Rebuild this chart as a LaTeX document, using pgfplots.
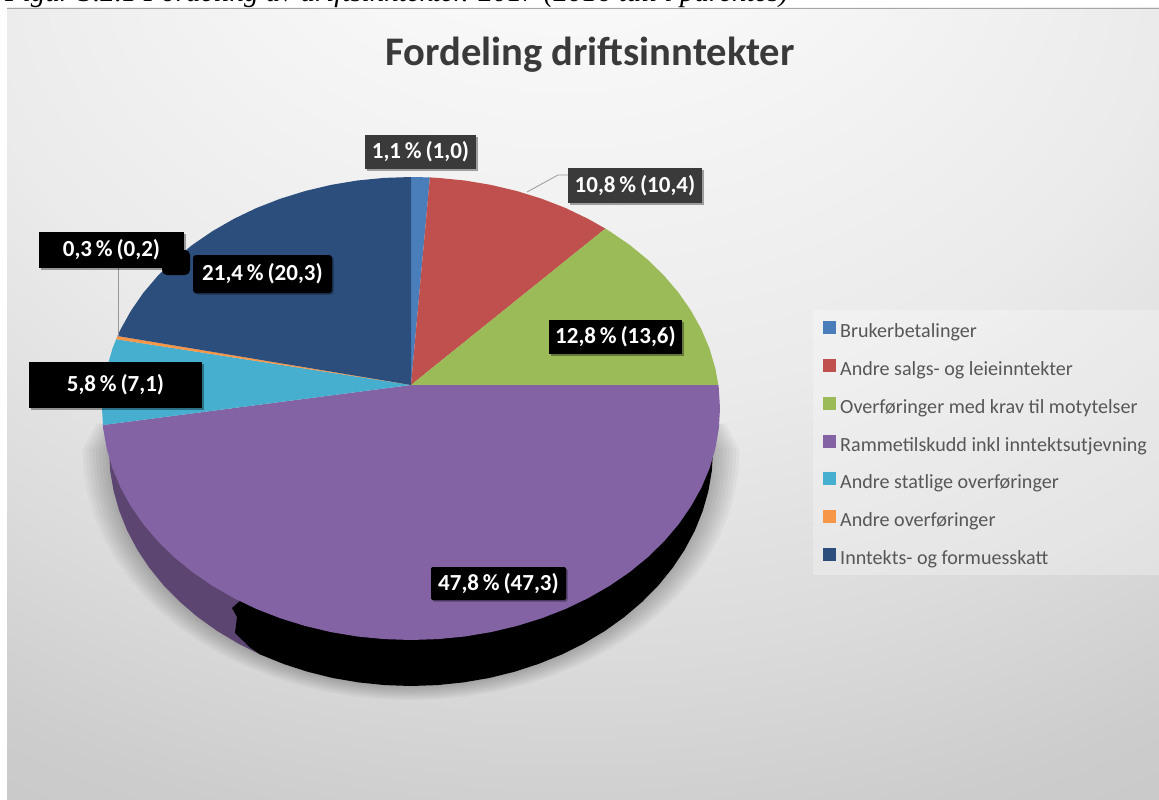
\documentclass[border=0pt]{standalone}
\usepackage{fontspec}
\setmainfont{Carlito}
\newfontfamily\capfont{Liberation Serif}
\usepackage{pgfplots}
\pgfplotsset{compat=1.18}
\usepackage{pgfplotstable}
\usetikzlibrary{shadows}
\definecolor{cBlue}{HTML}{4A7EBB}
\definecolor{cRed}{HTML}{C0504D}
\definecolor{cGreen}{HTML}{9BBB59}
\definecolor{cPurple}{HTML}{8463A5}
\definecolor{cSide}{HTML}{5C4570}
\definecolor{cLight}{HTML}{46AFCF}
\definecolor{cOrange}{HTML}{F79646}
\definecolor{cDark}{HTML}{2B4E7C}
\definecolor{cTxt}{HTML}{3A3A3A}
\pgfdeclareradialshading{bgshade}{\pgfpoint{-1.1bp}{40.9bp}}{%
 color(0bp)=(white); color(8.5bp)=(white!98!black); color(26bp)=(white!92!black);
 color(36bp)=(white!86!black); color(44bp)=(white!80!black); color(56bp)=(white!76!black); color(72bp)=(white!75!black)}
\pgfplotstableread{
x y
700 425
713 450
711.9 470.6
708.4 491
702.7 511.1
694.8 530.7
684.7 549.7
672.5 568
658.4 585.4
642.3 601.7
624.5 616.9
605.1 630.8
584.2 643.3
562 654.4
538.6 663.9
514.3 671.8
489.2 678
463.4 682.4
437.3 685.1
411 686
384.7 685.1
358.6 682.4
332.8 678
307.7 671.8
283.4 663.9
260 654.4
237.8 643.3
216.9 630.8
197.5 616.9
179.7 601.7
163.6 585.4
149.5 568
137.3 549.7
127.2 530.7
119.3 511.1
113.6 491
110.1 470.6
109 450
122 425
}\shadowtab
\begin{document}
\begin{tikzpicture}
\useasboundingbox (0,0) rectangle (1159pt,800pt);
\clip (0,0) rectangle (1159pt,800pt);
\begin{axis}[
  at={(0,0)},anchor=south west,
  scale only axis,width=1159pt,height=800pt,
  xmin=0,xmax=1159,ymin=0,ymax=800,y dir=reverse,
  hide axis,clip=false,
  legend cell align=left,
  legend image code/.code={\fill[#1] (0pt,-1pt) rectangle (13pt,12pt);\path (17pt,0pt);},
  legend style={at={(axis cs:820,319)},anchor=north west,draw=none,fill=none,
    font=\fontsize{20.1}{20.1}\selectfont,text=cTxt!85!white,
    row sep=17.3pt,
    nodes={inner sep=0pt,text height=13pt,text depth=4pt}},
  every axis plot/.append style={draw=none},
]
% panel background
\shade[shading=bgshade] (axis cs:7,8) rectangle (axis cs:1159,800);
\draw[gray!70,line width=0.8pt] (axis cs:7,8) -- (axis cs:1159,8);
% legend panel
\fill[white,opacity=0.28] (axis cs:813,310) rectangle (axis cs:1159,575);
% soft shadow under the pie
\pgfplotsinvokeforeach{8,7,6,5,4,3,2,1}{
\addplot[forget plot,fill=black,fill opacity=0.03,draw=none]
  table[x expr={411+(\thisrow{x}-411)*(1+0.011*#1)},y expr={450+(\thisrow{y}-450)*(1+0.0075*#1)}] {\shadowtab} --cycle;
}
% side of the pie
\addplot[forget plot,fill=cSide] coordinates {(109,450)(110.1,470.6)(113.6,491)(119.3,511.1)(127.2,530.7)(137.3,549.7)(149.5,568)(163.6,585.4)(179.7,601.7)(197.5,616.9)(216.9,630.8)(237.8,643.3)(260,654.4)(411,450)} --cycle;
\addplot[forget plot,fill=black] coordinates {(713,450)(711.9,470.6)(708.4,491)(702.7,511.1)(694.8,530.7)(684.7,549.7)(672.5,568)(658.4,585.4)(642.3,601.7)(624.5,616.9)(605.1,630.8)(584.2,643.3)(562,654.4)(538.6,663.9)(514.3,671.8)(489.2,678)(463.4,682.4)(437.3,685.1)(411,686)(384.7,685.1)(358.6,682.4)(332.8,678)(307.7,671.8)(283.4,663.9)(260,654.4)(250,647.5)(235,633)(237,617)(232,608)(411,450)} --cycle;
% top face: shares 1,1 / 10,8 / 12,8 / 47,8 / 5,8 / 0,3 / 21,4 %
\addplot[fill=cBlue] coordinates {(411,385)(411,177)(429.9,177.4)} --cycle;
\addplot[fill=cRed] coordinates {(411,385)(429.9,177.4)(437.9,177.9)(464.7,180.5)(491,184.9)(516.7,191)(541.6,198.7)(565.5,208)(588.2,218.9)(605.4,228.6)} --cycle;
\addplot[fill=cGreen] coordinates {(411,385)(605.4,228.6)(609.6,231.2)(629.5,244.8)(647.7,259.7)(664.1,275.7)(678.6,292.75)(691,310.7)(701.4,329.3)(709.5,348.6)(715.3,368.3)(718.4,385.1)} --cycle;
\addplot[fill=cPurple] coordinates {(411,385)(718.4,385.1)(718.8,388.3)(720,408.5)(718.8,428.7)(715.3,448.7)(709.5,468.4)(701.4,487.7)(691,506.3)(678.6,524.25)(664.1,541.3)(647.7,557.3)(629.5,572.2)(609.6,585.8)(588.2,598.1)(565.5,609)(541.6,618.3)(516.7,626)(491,632.1)(464.7,636.5)(437.9,639.1)(411,640)(384.1,639.1)(357.3,636.5)(331,632.1)(305.3,626)(280.4,618.3)(256.5,609)(233.8,598.1)(212.4,585.8)(192.5,572.2)(174.3,557.3)(157.9,541.3)(143.4,524.25)(131,506.3)(120.6,487.7)(112.5,468.4)(106.7,448.7)(103.2,428.7)(103,425)} --cycle;
\addplot[fill=cLight] coordinates {(411,385)(103,425)(102,408.5)(103.2,388.3)(106.7,368.3)(112.5,348.6)(116.2,339.2)} --cycle;
\addplot[fill=cOrange] coordinates {(411,385)(116.2,339.2)(117.5,336)} --cycle;
\addplot[fill=cDark] coordinates {(411,385)(117.5,336)(120.6,329.3)(131,310.7)(143.4,292.75)(157.9,275.7)(174.3,259.7)(192.5,244.8)(212.4,231.2)(233.8,218.9)(256.5,208)(280.4,198.7)(305.3,191)(331,184.9)(357.3,180.5)(384.1,177.9)(411,177)} --cycle;
\legend{Brukerbetalinger,Andre salgs- og leieinntekter,Overføringer med krav til motytelser,Rammetilskudd inkl inntektsutjevning,Andre statlige overføringer,Andre overføringer,Inntekts- og formuesskatt}
% connectors
\draw[gray!80,line width=0.8pt] (axis cs:527,192) -- (axis cs:558,175) -- (axis cs:570,175);
\draw[gray!80,line width=0.8pt] (axis cs:118,266) -- (axis cs:118,337);
% labels
\tikzset{box/.style={inner sep=0pt,text=white,font=\fontsize{23}{23}\selectfont\bfseries,fill=black,
  drop shadow={shadow xshift=1.5pt,shadow yshift=-1.5pt,opacity=.35,fill=black}}}
\node[box,fill=cTxt,minimum width=111pt,minimum height=34pt] at (axis cs:420.5,152) {1,1\,\%\,(1,0)};
\node[box,fill=cTxt,minimum width=134pt,minimum height=35pt] at (axis cs:635,185.5) {10,8\,\%\,(10,4)};
\node[box,minimum width=133pt,minimum height=34pt] at (axis cs:615.5,337) {12,8\,\%\,(13,6)};
\fill[black,rounded corners=5pt] (axis cs:162,250) rectangle (axis cs:190,275);
\node[box,minimum width=145pt,minimum height=36pt] at (axis cs:111.5,250) {0,3\,\%\,(0,2)};
\node[box,rounded corners=3pt,minimum width=139pt,minimum height=38pt] at (axis cs:262.5,274) {21,4\,\%\,(20,3)};
\node[box,minimum width=173pt,minimum height=46pt] at (axis cs:115.5,385) {5,8\,\%\,(7,1)};
\node[box,rounded corners=2pt,minimum width=135pt,minimum height=33pt] at (axis cs:498.5,583.5) {47,8\,\%\,(47,3)};
% title and caption
\node[anchor=base,text=cTxt,font=\fontsize{40.6}{40.6}\selectfont\bfseries] at (axis cs:590,66) {Fordeling driftsinntekter};
\node[anchor=base west,inner sep=0pt,font=\capfont\itshape\fontsize{29}{29}\selectfont] at (axis cs:5,2) {Figur 3.2.1 Fordeling av driftsinntekter. 2017 (2016 tall i parentes)};
\end{axis}
\end{tikzpicture}
\end{document}
